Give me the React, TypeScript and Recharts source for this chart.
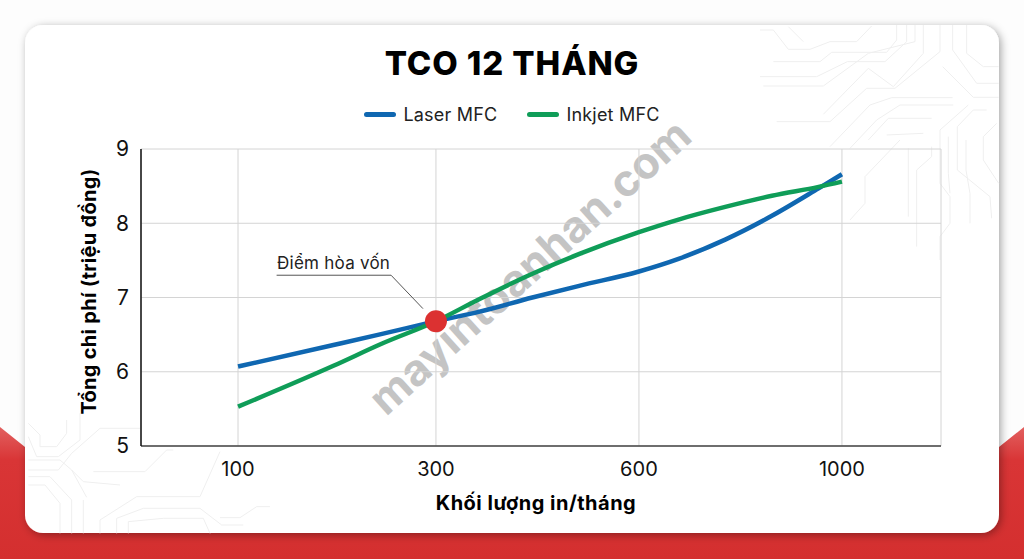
import React from "react"
import {
  LineChart,
  Line,
  XAxis,
  YAxis,
  CartesianGrid,
  Legend,
  ReferenceDot,
  ReferenceLine,
} from "recharts"

// step along the x axis (the ticks are not quite evenly spaced in the source)
const steps = [0, 0.47, 0.71, 0.975, 1.19, 1.45, 1.685, 1.975, 2.17, 2.4, 2.63, 2.86, 2.975]
const laser = [6.07, 6.36, 6.51, 6.68, 6.81, 7.0, 7.16, 7.35, 7.52, 7.78, 8.1, 8.47, 8.66]
const inkjet = [5.53, 6.08, 6.38, 6.68, 6.98, 7.32, 7.59, 7.88, 8.05, 8.22, 8.37, 8.49, 8.56]

const tickSteps = [0, 0.975, 1.975, 2.975]
const tickLabels = ["100", "300", "600", "1000"]
const yTicks = [5, 6, 7, 8, 9]

const breakEven = { x: 0.975, y: 6.68 }
const leader = [
  { x: 0.19, y: 7.3 },
  { x: 0.754, y: 7.3 },
  { x: 0.911, y: 6.85 },
]

const data = steps.map((step, i) => ({ step, laser: laser[i], inkjet: inkjet[i] }))

const FONT = "Inter, 'DejaVu Sans', sans-serif"

// faint circuit pattern, traced from the card corners
const circuitTopRight = [
  "M85 20L130 65M0 30L40 30L85 88L150 88L210 65L290 65L335 18",
  "M40 125L180 125L215 97L380 97L410 60L410 15",
  "M0 170L170 170L262 125L375 125L440 65L440 15",
  "M10 198L190 198L325 100L465 65L465 15",
  "M190 283L325 145L400 200L490 100L490 15",
  "M50 305L210 305L320 205L405 205L540 95L540 15",
  "M210 380L330 255L395 233L578 233",
  "M270 385L350 300L420 255L580 255",
  "M325 360L385 295L515 295",
  "M380 345L490 340",
  "M548 140L640 232L716 232M578 15L578 90L650 190L716 190M620 15L620 100L670 140L716 140",
  "M625 255L540 330L540 490L570 530L570 610L540 650L540 720",
  "M680 270L640 270L592 320L592 450L690 530L695 595",
  "M710 310L670 350L670 420L716 490M618 360L618 450L630 520L630 610",
  "M565 350L565 460L570 520",
  "M445 385L445 590M515 380L515 410L470 450L470 680",
  "M420 360L315 470L315 550L270 600",
]
const circuitBottomLeft = [
  "M85 40L120 75L120 110L170 110L200 70L200 30",
  "M85 80L110 140L175 140L240 90L240 10",
  "M85 150L180 150L215 180L260 262",
  "M85 180L175 180L215 130L300 55L420 55",
  "M280 185L435 185L500 120L520 120",
  "M85 200L150 200L215 270L215 370",
  "M85 225L135 225L180 280L180 370",
  "M215 180L250 215L360 225",
  "M250 270L250 370M300 370L300 330L410 260L600 260L660 125",
  "M350 370L350 325L430 295L600 295L665 345L730 345",
  "M385 370L385 335L490 325L610 325L630 370",
  "M660 323L720 323L770 290L810 290",
]

const BackgroundLayer = () => (
  <svg width={1024} height={559} style={{ position: "absolute", left: 0, top: 0 }}>
    <defs>
      <linearGradient id="redFill" x1="0" y1="0" x2="0" y2="1">
        <stop offset="0" stopColor="#e2605f" />
        <stop offset="0.25" stopColor="#d93536" />
        <stop offset="1" stopColor="#d42f2f" />
      </linearGradient>
      <filter id="cardShadow" x="-5%" y="-5%" width="110%" height="110%">
        <feDropShadow dx="2" dy="2" stdDeviation="4" floodColor="#000" floodOpacity="0.35" />
      </filter>
    </defs>
    <rect width={1024} height={559} fill="#fdfdfd" />
    <path d="M0 427L25 447L999 447L1024 427L1024 559L0 559Z" fill="url(#redFill)" />
    <rect x={25} y={25} width={974} height={508} rx={18} fill="#fff" filter="url(#cardShadow)" />
    <g transform="translate(760 20) scale(0.3333)" fill="none" stroke="#efefef" strokeWidth={3}>
      {circuitTopRight.map((d) => (
        <path key={d} d={d} />
      ))}
    </g>
    <g transform="translate(0 410) scale(0.3333)" fill="none" stroke="#efefef" strokeWidth={3}>
      {circuitBottomLeft.map((d) => (
        <path key={d} d={d} />
      ))}
    </g>
    <text
      x={530}
      y={282}
      textAnchor="middle"
      transform="rotate(-42 530 267)"
      fontFamily={FONT}
      fontWeight={700}
      fontSize={44}
      fill="#c4c4c4"
    >
      mayintoanhan.com
    </text>
  </svg>
)

const renderLegend = () => (
  <div
    style={{
      display: "flex",
      justifyContent: "center",
      fontFamily: FONT,
      fontSize: 18,
      letterSpacing: 0.2,
      color: "#222",
    }}
  >
    {[
      { name: "Laser MFC", color: "#0f67b1", gap: 30 },
      { name: "Inkjet MFC", color: "#0f9d58", gap: 0 },
    ].map((item) => (
      <span key={item.name} style={{ display: "flex", alignItems: "center", marginRight: item.gap }}>
        <span
          style={{ width: 32, height: 5, borderRadius: 3, background: item.color, marginRight: 7, display: "inline-block" }}
        />
        {item.name}
      </span>
    ))}
  </div>
)

export default function App() {
  return (
    <div style={{ position: "fixed", left: 0, top: 0, width: 1024, height: 559, overflow: "hidden" }}>
      <BackgroundLayer />
      <div style={{ position: "absolute", left: 0, top: 0 }}>
        <LineChart
          width={1024}
          height={559}
          data={data}
          margin={{ top: 119, right: 83, bottom: 53, left: 91 }}
        >
          <text
            x={512}
            y={75}
            textAnchor="middle"
            fontFamily={FONT}
            fontWeight={800}
            fontSize={33}
            letterSpacing={0.9}
            fill="#000"
          >
            TCO 12 THÁNG
          </text>
          <CartesianGrid stroke="#d4d4d4" strokeWidth={1} />
          <XAxis
            dataKey="step"
            type="number"
            domain={[-0.478, 3.463]}
            ticks={tickSteps}
            tickFormatter={(v: number) => tickLabels[tickSteps.indexOf(v)]}
            height={60}
            axisLine={{ stroke: "#444", strokeWidth: 1.5 }}
            tickLine={false}
            tickMargin={10}
            tick={{ fontFamily: FONT, fontSize: 20, fill: "#111" }}
            allowDataOverflow
            label={{
              value: "Khối lượng in/tháng",
              position: "insideBottom",
              offset: -4,
              dx: -5,
              style: { fontFamily: FONT, fontSize: 20, fontWeight: 700, letterSpacing: 0.5, fill: "#000" },
            }}
          />
          <YAxis
            domain={[5, 9]}
            ticks={yTicks}
            width={50}
            axisLine={{ stroke: "#111", strokeWidth: 1.5 }}
            tickLine={false}
            tickMargin={6}
            tick={{ fontFamily: FONT, fontSize: 21, fill: "#111" }}
            label={{
              value: "Tổng chi phí (triệu đồng)",
              angle: -90,
              position: "insideLeft",
              offset: -2,
              dy: -6,
              style: { textAnchor: "middle", fontFamily: FONT, fontSize: 20, fontWeight: 700, letterSpacing: 0.3, fill: "#000" },
            }}
          />
          <Legend
            verticalAlign="top"
            height={30}
            content={renderLegend}
            wrapperStyle={{ top: 104, left: 0, width: 1024 }}
          />
          <Line
            dataKey="laser"
            name="Laser MFC"
            type="monotone"
            stroke="#0f67b1"
            strokeWidth={4.5}
            dot={false}
            isAnimationActive={false}
          />
          <Line
            dataKey="inkjet"
            name="Inkjet MFC"
            type="monotone"
            stroke="#0f9d58"
            strokeWidth={4.5}
            dot={false}
            isAnimationActive={false}
          />
          <ReferenceLine segment={[leader[0], leader[1]]} stroke="#555" strokeWidth={1} />
          <ReferenceLine segment={[leader[1], leader[2]]} stroke="#555" strokeWidth={1} />
          <ReferenceDot x={breakEven.x} y={breakEven.y} r={11} fill="#dc3131" stroke="none" />
          <text x={277} y={269} fontFamily={FONT} fontSize={17} letterSpacing={0.25} fill="#222">
            Điểm hòa vốn
          </text>
        </LineChart>
      </div>
    </div>
  )
}
